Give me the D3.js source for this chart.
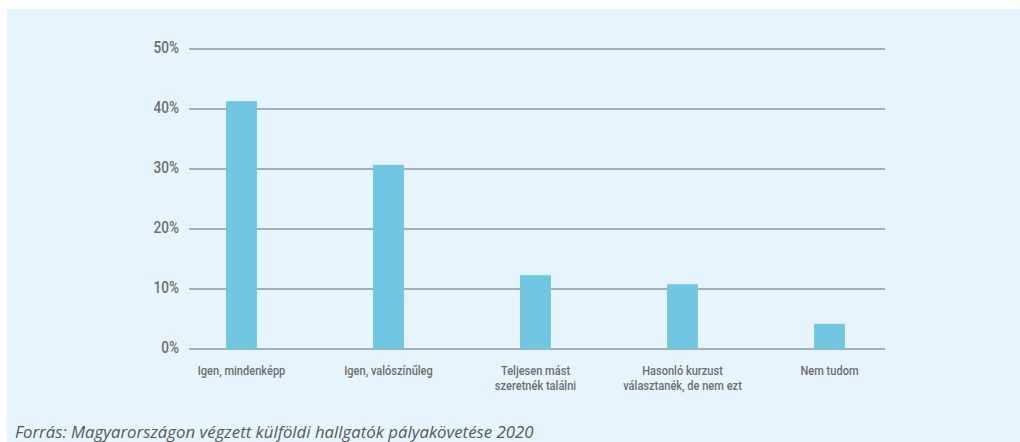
<!DOCTYPE html>
<html>
<head>
<meta charset="utf-8">
<script src="https://cdn.jsdelivr.net/npm/d3@7"></script>
<style>
  body { margin: 0; background: #fff; }
  svg { display: block; }
  .tick-label { font-family: Roboto, "DejaVu Sans", sans-serif; font-weight: 500; fill: #6d6e70; }
  .source { font-family: "Open Sans", sans-serif; font-style: italic; fill: #58595b; }
</style>
</head>
<body>
<svg id="chart" width="1020" height="442"></svg>
<script>
// data
var categories = [
  ["Igen, mindenképp"],
  ["Igen, valószínűleg"],
  ["Teljesen mást", "szeretnék találni"],
  ["Hasonló kurzust", "választanék, de nem ezt"],
  ["Nem tudom"]
];
var values = [41.3, 30.7, 12.3, 10.8, 4.2];
var yTicks = [0, 10, 20, 30, 40, 50];
var source = "Forrás: Magyarországon végzett külföldi hallgatók pályakövetése 2020";

var svg = d3.select('#chart');

// panel
svg.append('rect')
  .attr('x', 7).attr('y', 9)
  .attr('width', 1013).attr('height', 433)
  .attr('fill', '#e6f4fd');

var x = d3.scaleBand()
  .domain(d3.range(categories.length))
  .range([168, 903])
  .paddingInner(0.79)
  .paddingOuter(0.395);

var y = d3.scaleLinear()
  .domain([0, 50])
  .range([349, 49]);

// grid lines
svg.append('g')
  .selectAll('line')
  .data(yTicks)
  .enter().append('line')
  .attr('x1', 189).attr('x2', 885)
  .attr('y1', function(d) { return y(d); })
  .attr('y2', function(d) { return y(d); })
  .attr('stroke', '#8d99a3')
  .attr('stroke-width', 1.6);

// y labels (condensed look)
svg.append('g')
  .selectAll('text')
  .data(yTicks)
  .enter().append('text')
  .attr('class', 'tick-label')
  .attr('text-anchor', 'end')
  .attr('font-size', 17)
  .attr('transform', function(d) { return 'translate(179,' + (y(d) + 4) + ') scale(0.8,1)'; })
  .text(function(d) { return d + '%'; });

// bars
svg.append('g')
  .selectAll('rect')
  .data(values)
  .enter().append('rect')
  .attr('x', function(d, i) { return x(i); })
  .attr('width', x.bandwidth())
  .attr('y', function(d) { return y(d); })
  .attr('height', function(d) { return y(0) - y(d); })
  .attr('fill', '#71c7e2');

// category labels
var labels = svg.append('g')
  .selectAll('text')
  .data(categories)
  .enter().append('text')
  .attr('class', 'tick-label')
  .attr('text-anchor', 'middle')
  .attr('font-size', 13.5)
  .attr('transform', function(d, i) {
    return 'translate(' + (x(i) + x.bandwidth() / 2) + ',375) scale(0.82,1)';
  });
labels.selectAll('tspan')
  .data(function(d) { return d; })
  .enter().append('tspan')
  .attr('x', 0)
  .attr('dy', function(d, i) { return i === 0 ? 0 : 15; })
  .text(function(d) { return d; });

// source
svg.append('text')
  .attr('class', 'source')
  .attr('x', 15)
  .attr('y', 438)
  .attr('font-size', 16.8)
  .text(source);
</script>
</body>
</html>
